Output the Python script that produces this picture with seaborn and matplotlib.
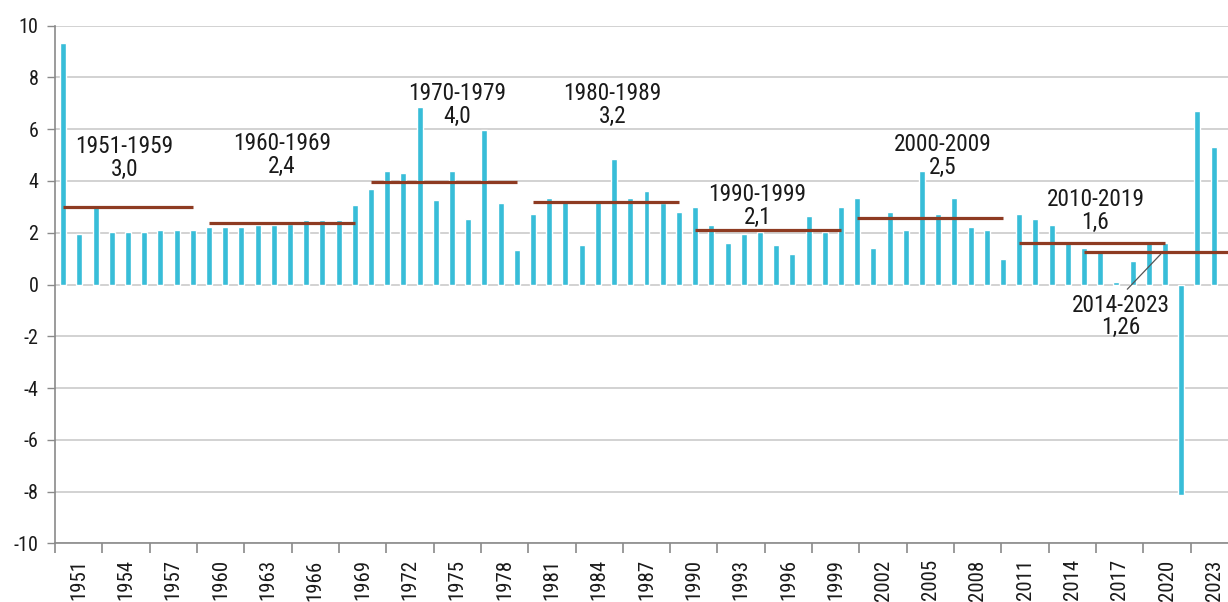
import numpy as np
import pandas as pd
import matplotlib
matplotlib.use("Agg")
import matplotlib.pyplot as plt
import seaborn as sns
from matplotlib import font_manager as fm

# ---------------- data ----------------
years = list(range(1951, 2023))
growth = [9.34, 1.94, 3.08, 2.03, 2.03, 2.03, 2.12, 2.12, 2.12,
          2.21, 2.21, 2.21, 2.30, 2.30, 2.34, 2.48, 2.48, 2.48, 3.08,
          3.70, 4.40, 4.31, 6.84, 3.26, 4.40, 2.55, 5.97, 3.16, 1.33,
          2.74, 3.34, 3.25, 1.51, 3.25, 4.84, 3.34, 3.60, 3.16, 2.81,
          2.99, 2.28, 1.59, 1.94, 2.03, 1.51, 1.16, 2.63, 2.04, 2.99,
          3.34, 1.42, 2.81, 2.12, 4.39, 2.74, 3.34, 2.21, 2.12, 0.97,
          2.74, 2.55, 2.28, 1.68, 1.42, 1.33, 0.09, 0.89, 1.68, 1.59,
          -8.15, 6.72, 5.33]

period_labels = ["1951-1959", "1960-1969", "1970-1979", "1980-1989",
                 "1990-1999", "2000-2009", "2010-2019", "2014-2023"]
period_start = [1951, 1960, 1970, 1980, 1990, 2000, 2010, 2014]
period_end = [1959, 1969, 1979, 1989, 1999, 2009, 2019, 2023]
period_mean = [2.98, 2.39, 3.97, 3.17, 2.12, 2.56, 1.60, 1.25]
period_text = ["3,0", "2,4", "4,0", "3,2", "2,1", "2,5", "1,6", "1,26"]

axis_years = list(range(1951, 2026))      # category axis used for labels
tick_labels = [str(y) for y in range(1951, 2024, 3)]
y_ticks = list(range(-10, 11, 2))

# ---------------- style ----------------
def pick_font(cands):
    for c in cands:
        try:
            fm.findfont(fm.FontProperties(family=c), fallback_to_default=False)
            return c
        except Exception:
            pass
    return "DejaVu Sans"

sns.set_theme(style="white")
FONT = pick_font(["Liberation Sans Narrow", "Roboto Condensed", "DejaVu Sans"])
plt.rcParams["font.family"] = [FONT, "DejaVu Sans"]

BAR = "#38BDD8"
MEAN = "#8E3B22"
GRID = "#C6C6C6"
SPINE = "#8A8A8A"
TXT = "#1A1A1A"

W, H = 1228, 602
fig = plt.figure(figsize=(W / 100, H / 100), dpi=100)
left, bottom, right, top = 55, 58.7, 1238, 576.3
ax = fig.add_axes([left / W, bottom / H, (right - left) / W, (top - bottom) / H])

df = pd.DataFrame({"year": [str(y) for y in years], "growth": growth})
sns.barplot(data=df, x="year", y="growth", color=BAR, saturation=1,
            width=0.37, ax=ax, zorder=2)

n_slots = period_end[-1] - years[0] + 1
ax.set_xlim(-0.5, n_slots - 0.5)
ax.set_ylim(-10, 10)
ax.set_yticks(y_ticks)
ax.set_yticklabels([str(v) for v in y_ticks], fontsize=14.5, color=TXT)
ax.tick_params(axis="y", length=6, width=1, color=SPINE, pad=6, left=True)
ax.tick_params(axis="x", which="both", bottom=False, top=False,
               labelbottom=False, length=0)
ax.set_xlabel("")
ax.set_ylabel("")
ax.yaxis.grid(True, color=GRID, lw=1.1, zorder=0)
ax.xaxis.grid(False)
ax.set_axisbelow(True)
for s in ["top", "right"]:
    ax.spines[s].set_visible(False)
for s in ["left", "bottom"]:
    ax.spines[s].set_color(SPINE)
    ax.spines[s].set_linewidth(1.2)

# decade mean lines
for s, e, m in zip(period_start, period_end, period_mean):
    ax.hlines(m, s - years[0], e - years[0], color=MEAN, lw=2.3, zorder=3)

# annotations (two lines each, y = baseline of the second line)
ann_pos = {
    "1951-1959": (3.8, 4.20),
    "1960-1969": (13.5, 4.31),
    "1970-1979": (24.3, 6.26),
    "1980-1989": (33.9, 6.26),
    "1990-1999": (42.85, 2.35),
    "2000-2009": (54.3, 4.28),
    "2010-2019": (63.7, 2.15),
    "2014-2023": (65.25, -1.93),
}
for lab, txt in zip(period_labels, period_text):
    x, y = ann_pos[lab]
    ax.text(x, y, f"{lab}\n{txt}", ha="center", va="baseline", ma="center",
            fontsize=16.8, color=TXT, linespacing=0.97, zorder=4)

# leader line for 2014-2023
ax.annotate("", xy=(67.85, period_mean[-1]), xytext=(65.55, -0.26),
            arrowprops=dict(arrowstyle="-", color="#555555", lw=0.9), zorder=4)

# label axis (separate category axis as in the original)
ax2 = ax.twiny()
ax2.set_xlim(0, len(axis_years))
ax2.xaxis.set_ticks_position("bottom")
ax2.xaxis.set_label_position("bottom")
for s in ax2.spines.values():
    s.set_visible(False)
ax2.set_xticks(np.arange(0, len(axis_years), 3))
ax2.set_xticklabels([])
ax2.set_xticks(np.arange(1.5, len(tick_labels) * 3, 3), minor=True)
ax2.set_xticklabels(tick_labels, minor=True, rotation=90, fontsize=15, color=TXT)
ax2.tick_params(axis="x", which="major", length=7, width=1.2, color=SPINE,
                direction="out", bottom=True, top=False)
ax2.tick_params(axis="x", which="minor", length=0, pad=11.5,
                bottom=True, top=False)
ax2.grid(False)

fig.savefig("out.png", dpi=100)
